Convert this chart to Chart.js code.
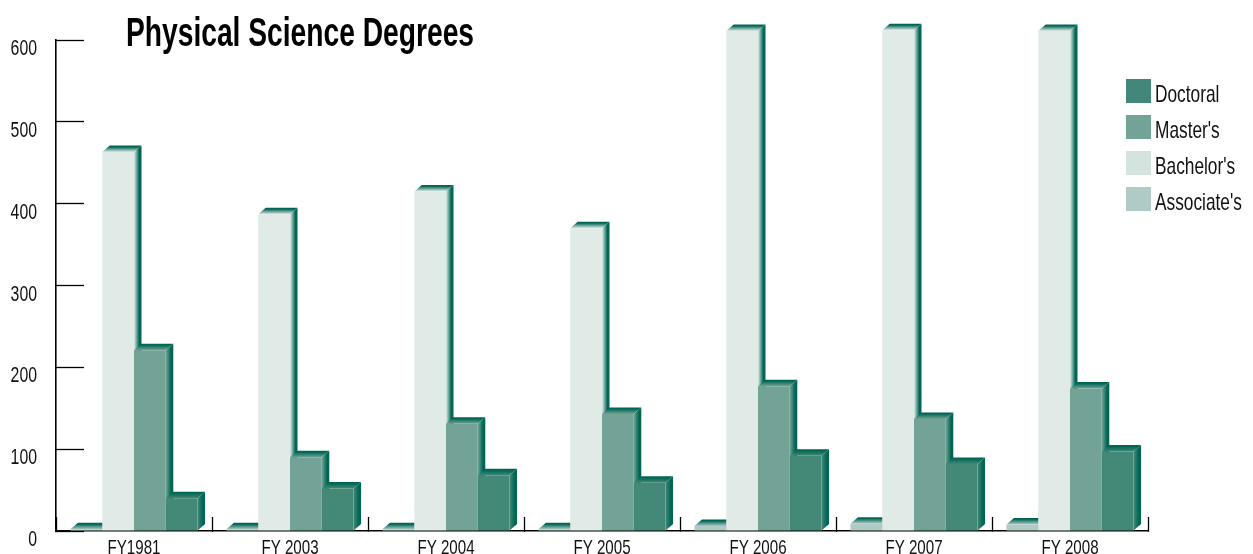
<!DOCTYPE html>
<html>
<head>
<meta charset="utf-8">
<title>Physical Science Degrees</title>
<script src="https://cdn.jsdelivr.net/npm/chart.js@4/dist/chart.umd.min.js"></script>
<style>
  html, body { margin: 0; padding: 0; background: #fff; overflow: hidden; }
  #wrap { width: 1253px; height: 554px; }
</style>
</head>
<body>
<div id="wrap"><canvas id="chart" width="1253" height="554"></canvas></div>
<script>
// — Data —
const categories = ['FY1981', 'FY 2003', 'FY 2004', 'FY 2005', 'FY 2006', 'FY 2007', 'FY 2008'];
const associates = [2, 2, 2, 2, 6, 9, 8];
const bachelors  = [463, 387, 415, 370, 611, 612, 611];
const masters    = [221, 90, 131, 143, 177, 137, 174];
const doctorals  = [40, 52, 68, 59, 92, 82, 97];

// — Styles —
const FONT = '"Liberation Sans Narrow", "Liberation Sans", sans-serif';
const DARK = '#006654';
const DEPTH_X = 7.5;
const DEPTH_Y = 6.5;
const legendOrder = [3, 2, 1, 0];   // dataset index, top to bottom

const canvas = document.getElementById('chart');
const ctx = canvas.getContext('2d');

// — None of the installed fonts is narrow enough, so squeeze the text a bit —
const rawFillText = ctx.fillText.bind(ctx);
ctx.fillText = (text, x, y) => {
  const squeeze = ctx.font.includes('bold') ? 0.705 : 0.72;
  rawFillText(text, x, y, ctx.measureText(text).width * squeeze);
};

// — Top and side faces go under all the fronts, left to right —
const depthFaces = {
  id: 'depthFaces',
  beforeDatasetsDraw(chart) {
    const c = chart.ctx;
    chart.data.datasets.forEach((ds, i) => {
      chart.getDatasetMeta(i).data.forEach(bar => {
        const l = bar.x - bar.width / 2;
        const r = bar.x + bar.width / 2;
        const top = c.createLinearGradient(0, bar.y - DEPTH_Y, 0, bar.y);
        top.addColorStop(0, DARK);
        top.addColorStop(0.2, DARK);
        top.addColorStop(1, ds.backgroundColor);
        c.fillStyle = top;
        c.beginPath();
        c.moveTo(l, bar.y);
        c.lineTo(l + DEPTH_X, bar.y - DEPTH_Y);
        c.lineTo(r + DEPTH_X, bar.y - DEPTH_Y);
        c.lineTo(r, bar.y);
        c.closePath();
        c.fill();
        const side = c.createLinearGradient(r, 0, r + DEPTH_X, 0);
        side.addColorStop(0, ds.backgroundColor);
        side.addColorStop(0.7, DARK);
        side.addColorStop(1, DARK);
        c.fillStyle = side;
        c.beginPath();
        c.moveTo(r, bar.y);
        c.lineTo(r + DEPTH_X, bar.y - DEPTH_Y);
        c.lineTo(r + DEPTH_X, bar.base - DEPTH_Y);
        c.lineTo(r, bar.base);
        c.closePath();
        c.fill();
      });
    });
  }
};

// — Legend swatches sit over the plot, on the right —
const sideLegend = {
  id: 'sideLegend',
  afterDraw(chart) {
    const c = chart.ctx;
    const swatches = ['#43877a', '#73a396', '#d5e3df', '#b0cbc6'];
    c.save();
    c.font = '24px ' + FONT;
    c.textBaseline = 'middle';
    c.textAlign = 'left';
    legendOrder.forEach((idx, i) => {
      const y = 79 + i * 36;
      c.fillStyle = swatches[i];
      c.fillRect(1126, y, 25, 24);
      c.fillStyle = '#111';
      c.fillText(chart.data.datasets[idx].label, 1155, y + 16);
    });
    c.restore();
  }
};

// — Title starts right of the axis and lower than its layout box —
const titleShift = {
  id: 'titleShift',
  afterLayout(chart) {
    chart.titleBlock.left = 126;
    chart.titleBlock.top = 15;
  }
};

new Chart(ctx, {
  type: 'bar',
  data: {
    labels: categories,
    datasets: [
      { label: "Associate's", data: associates, backgroundColor: '#b0cbc6', clip: false },
      { label: "Bachelor's",  data: bachelors,  backgroundColor: '#e0eae7', clip: false },
      { label: "Master's",    data: masters,    backgroundColor: '#73a396', clip: false },
      { label: 'Doctoral',    data: doctorals,  backgroundColor: '#448877', clip: false }
    ]
  },
  plugins: [depthFaces, sideLegend, titleShift],
  options: {
    responsive: false,
    animation: false,
    categoryPercentage: 0.815,
    barPercentage: 1,
    layout: { autoPadding: false, padding: { left: 0, right: 105, top: 0, bottom: 0 } },
    plugins: {
      legend: { display: false },
      tooltip: { enabled: false },
      title: {
        display: true,
        text: 'Physical Science Degrees',
        align: 'start',
        color: '#000',
        font: { family: FONT, size: 40, weight: 'bold', lineHeight: 1 },
        padding: 0
      }
    },
    scales: {
      x: {
        grid: { drawOnChartArea: false, tickLength: -14, color: '#000', tickWidth: 1.3 },
        border: { color: '#000', width: 1.6 },
        ticks: { font: { family: FONT, size: 21 }, color: '#111', padding: 19, maxRotation: 0, autoSkip: false },
        afterFit(scale) { scale.height = 23; scale.paddingLeft = 0; scale.paddingRight = 0; }
      },
      y: {
        min: 0,
        max: 600,
        grid: { drawOnChartArea: false, tickLength: -28, color: '#000', tickWidth: 1.3 },
        border: { color: '#000', width: 1.6 },
        ticks: { stepSize: 100, font: { family: FONT, size: 22 }, color: '#111', padding: 47, labelOffset: 9 },
        afterFit(scale) { scale.width = 56; scale.paddingTop = 0; scale.paddingBottom = 0; }
      }
    }
  }
});
</script>
</body>
</html>
